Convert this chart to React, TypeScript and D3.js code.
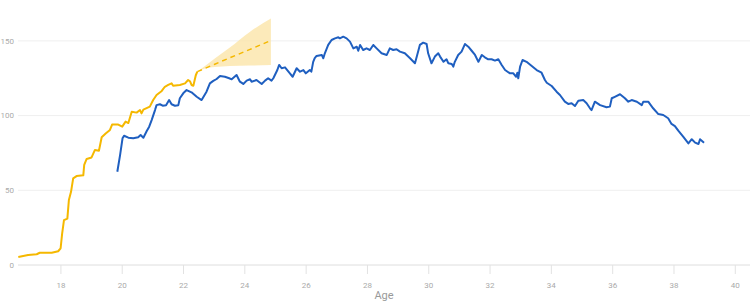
import React from "react";
import * as d3 from "d3";

// ---- data ----
const yellowAge = [16.61, 16.93, 17.21, 17.31, 17.70, 17.91, 17.99, 18.04, 18.10, 18.21, 18.26, 18.33, 18.40, 18.51, 18.73, 18.76, 18.84, 19.00, 19.11, 19.24, 19.33, 19.46, 19.60, 19.67, 19.87, 20.00, 20.11, 20.20, 20.31, 20.47, 20.58, 20.63, 20.69, 20.90, 21.01, 21.12, 21.29, 21.39, 21.50, 21.61, 21.66, 21.88, 22.05, 22.15, 22.21, 22.26, 22.32, 22.40, 22.45];
const yellowValue = [5.4, 6.7, 7.2, 8.2, 8.2, 9.2, 11.2, 21, 30, 31, 43.5, 49, 58, 59.5, 60, 67, 71, 72, 77, 76.5, 85.5, 88, 90.4, 94, 94, 92.6, 96, 95, 102.6, 102, 103.7, 101.5, 104, 106, 110.4, 113.8, 116.5, 119.3, 120.5, 121.6, 120, 120.5, 121.6, 123.8, 123, 120.5, 120, 127, 129.4];

const blueAge = [19.84, 19.93, 20.01, 20.06, 20.20, 20.36, 20.52, 20.60, 20.69, 20.80, 20.88, 20.96, 21.07, 21.12, 21.23, 21.32, 21.43, 21.53, 21.61, 21.72, 21.83, 21.88, 21.99, 22.10, 22.26, 22.43, 22.59, 22.75, 22.86, 22.97, 23.08, 23.19, 23.35, 23.49, 23.57, 23.73, 23.84, 23.95, 24.06, 24.17, 24.22, 24.38, 24.55, 24.66, 24.76, 24.87, 24.93, 25.06, 25.12, 25.20, 25.31, 25.45, 25.56, 25.69, 25.80, 25.91, 25.99, 26.12, 26.17, 26.23, 26.28, 26.34, 26.51, 26.56, 26.61, 26.72, 26.83, 26.94, 27.05, 27.10, 27.21, 27.32, 27.43, 27.54, 27.65, 27.70, 27.76, 27.86, 27.97, 28.08, 28.19, 28.30, 28.46, 28.63, 28.73, 28.84, 28.95, 29.06, 29.22, 29.39, 29.55, 29.61, 29.71, 29.82, 29.93, 29.98, 30.09, 30.20, 30.31, 30.37, 30.48, 30.58, 30.64, 30.75, 30.80, 30.85, 30.96, 31.07, 31.18, 31.29, 31.40, 31.51, 31.62, 31.73, 31.83, 31.94, 32.05, 32.16, 32.27, 32.38, 32.49, 32.65, 32.76, 32.85, 32.89, 32.92, 32.98, 33.06, 33.19, 33.36, 33.52, 33.68, 33.79, 33.85, 34.01, 34.17, 34.28, 34.44, 34.55, 34.66, 34.77, 34.88, 35.04, 35.15, 35.26, 35.31, 35.42, 35.59, 35.80, 35.91, 35.97, 36.07, 36.24, 36.40, 36.51, 36.62, 36.79, 36.95, 37.00, 37.16, 37.32, 37.49, 37.65, 37.81, 37.92, 38.03, 38.14, 38.30, 38.47, 38.58, 38.69, 38.80, 38.85, 38.98];
const blueValue = [62.4, 73.6, 84.8, 86.5, 85.2, 84.8, 85.5, 87, 85.2, 89.7, 92.6, 97, 103.7, 107, 107.6, 106.6, 107, 110.4, 107.6, 106.6, 107, 111.6, 114.9, 117.1, 115.6, 112.6, 110.4, 116, 121.6, 123.2, 124.5, 126.5, 126, 125, 124.3, 127.2, 122.7, 121.2, 123.4, 124.3, 122.7, 123.8, 121.2, 123.4, 125, 123.4, 125, 130.5, 133.9, 131.7, 132.3, 128.7, 126, 131.7, 129.4, 130.5, 128.3, 130.5, 129.4, 136, 138.4, 139.9, 140.6, 138.4, 141.7, 147.3, 150.6, 151.7, 152.4, 151.7, 152.8, 151.7, 149.5, 145, 146.1, 143.4, 147.3, 143.9, 145, 143.9, 147.3, 145, 141.7, 140.6, 145, 143.9, 144.4, 142.8, 141.7, 138.4, 135, 139.5, 147.3, 148.8, 147.9, 141.7, 135, 139.5, 141.7, 139.5, 136, 137.7, 135, 134.5, 132.8, 136, 140.6, 142.8, 147.9, 146.1, 143.4, 140.6, 136, 140.6, 139, 137.7, 137.7, 136.8, 137.7, 133.9, 130.5, 128.3, 128.3, 126, 128.7, 125, 132.8, 137.2, 136, 133.2, 130.5, 128.7, 123.8, 122, 119.8, 116, 113.8, 109.3, 107.8, 108.3, 106.4, 110, 110.4, 108.3, 104.9, 103.7, 109.3, 107, 105.6, 106, 111.6, 112.6, 114.3, 111.6, 109.3, 110.4, 109.3, 107, 109.3, 109.3, 104.9, 101, 100.4, 98.2, 94.4, 93, 89.9, 85.9, 81.4, 84.2, 81.9, 81, 84.2, 81.9];

const projAge = [22.45, 22.70, 23.02, 23.51, 24.17, 24.85];
const projMid = [129.4, 131.6, 134.4, 138.7, 144.3, 150.3];
const projHigh = [129.4, 133.2, 138.2, 145.6, 156.2, 165];
const projLow = [129.4, 131.5, 132.5, 133.2, 133.5, 133.9];

const xTicks = [18, 20, 22, 24, 26, 28, 30, 32, 34, 36, 38, 40];
const yTicks = [0, 50, 100, 150];
const xLabel = "Age";

const W = 750;
const H = 302;
const YELLOW = "#f5b800";
const BLUE = "#1f5fc0";

export default function App() {
  const x = d3.scaleLinear().domain([16.6, 40.48]).range([18, 750]);
  const y = d3.scaleLinear().domain([0, 175]).range([265, 3.55]);

  const line = d3
    .line<[number, number]>()
    .x((d) => x(d[0]))
    .y((d) => y(d[1]));

  const yellowPts = yellowAge.map((a, i) => [a, yellowValue[i]] as [number, number]);
  const bluePts = blueAge.map((a, i) => [a, blueValue[i]] as [number, number]);
  const midPts = projAge.map((a, i) => [a, projMid[i]] as [number, number]);

  const area = d3
    .area<number>()
    .x((_, i) => x(projAge[i]))
    .y0((_, i) => y(projLow[i]))
    .y1((_, i) => y(projHigh[i]))
    .curve(d3.curveMonotoneX);

  const font = "Roboto, 'Noto Sans', sans-serif";

  return (
    <svg
      width={W}
      height={H}
      style={{ position: "absolute", left: 0, top: 0, background: "#fff" }}
    >
      {yTicks.map((t) => (
        <g key={"y" + t}>
          <line
            x1={x.range()[0]}
            x2={x.range()[1]}
            y1={y(t)}
            y2={y(t)}
            stroke={t === 0 ? "#dedede" : "#efefef"}
            strokeWidth={1}
          />
          <text
            x={14}
            y={y(t)}
            dy="0.35em"
            textAnchor="end"
            fontFamily={font}
            fontSize={8}
            fill="#aaaaaa"
          >
            {t}
          </text>
        </g>
      ))}
      {xTicks.map((t) => (
        <g key={"x" + t}>
          <line x1={x(t)} x2={x(t)} y1={y(0)} y2={y(0) + 9} stroke="#e2e2e2" />
          <text
            x={x(t)}
            y={288}
            textAnchor="middle"
            fontFamily={font}
            fontSize={8}
            fill="#aaaaaa"
          >
            {t}
          </text>
        </g>
      ))}
      <text
        x={384}
        y={299}
        textAnchor="middle"
        fontFamily={font}
        fontSize={11}
        fill="#999999"
      >
        {xLabel}
      </text>

      <path d={area(projAge) || ""} fill="#fbe3a3" fillOpacity={0.75} />
      <path
        d={line(midPts) || ""}
        fill="none"
        stroke={YELLOW}
        strokeWidth={1.5}
        strokeDasharray="5,4"
      />
      <path
        d={line(yellowPts) || ""}
        fill="none"
        stroke={YELLOW}
        strokeWidth={2}
        strokeLinejoin="round"
      />
      <path
        d={line(bluePts) || ""}
        fill="none"
        stroke={BLUE}
        strokeWidth={2}
        strokeLinejoin="round"
      />
    </svg>
  );
}
